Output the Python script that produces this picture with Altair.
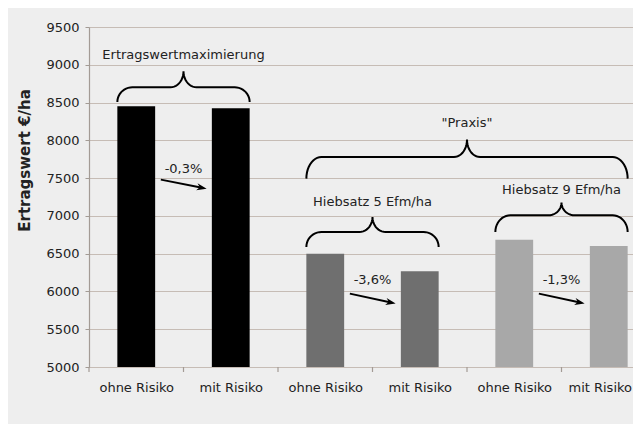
import json
import math
import altair as alt
import numpy as np
import pandas as pd

# ---------------- data ----------------
categories = ["ohne Risiko", "mit Risiko", "ohne Risiko", "mit Risiko", "ohne Risiko", "mit Risiko"]
values = [8450, 8425, 6500, 6266, 6685, 6600]
bar_colors = ["#000000", "#000000", "#6f6f6f", "#6f6f6f", "#a8a8a8", "#a8a8a8"]
y_ticks = [5000, 5500, 6000, 6500, 7000, 7500, 8000, 8500, 9000, 9500]

pct_labels = ["-0,3%", "-3,6%", "-1,3%"]
pct_pair_first = [0, 2, 4]
arrow_y_start = [7480, 5971, 5971]
arrow_y_end = [7360, 5839, 5839]
pct_label_y = [7617, 6147, 6147]

group_labels = ["Ertragswertmaximierung", '"Praxis"', "Hiebsatz 5 Efm/ha", "Hiebsatz 9 Efm/ha"]
group_first = [0, 2, 2, 4]
group_last = [1, 5, 3, 5]
brace_end_y = [8507, 7493, 6588, 6787]
brace_mid_y = [8702, 7779, 6787, 7008]
brace_tip_y = [8914, 8010, 6985, 7176]
group_label_y = [9126, 8229, 7184, 7348]

# ---------------- layout ----------------
W, H = 544, 340
BAND_PX = 94.5
XMAX = W / BAND_PX
YMIN, YMAX = y_ticks[0], y_ticks[-1]
kx = W / XMAX               # px per x unit
ky = H / (YMAX - YMIN)      # px per y unit
FONT = "DejaVu Sans"
TXT = "#222222"
GRID = "#c6bcb5"
AXC = "#a39b95"

xscale = alt.Scale(domain=[0, XMAX], nice=False, zero=False)
yscale = alt.Scale(domain=[YMIN, YMAX], nice=False, zero=False)

label_expr = json.dumps(categories) + "[floor(datum.value)]"

xaxis = alt.Axis(
    values=[i + 0.5 for i in range(len(categories))], labelExpr=label_expr,
    ticks=False, tickSize=0, grid=False, domain=True, domainColor=GRID, domainWidth=1.2,
    labelFont=FONT, labelFontSize=13, labelColor=TXT, labelPadding=14,
    labelOffset={"condition": {"test": "datum.value > 5", "value": -9}, "value": 0},
    labelBound=False, labelOverlap=False, title="")
yaxis = alt.Axis(
    values=y_ticks, format="d", grid=True, gridColor=GRID, gridWidth=1.2,
    domain=True, domainColor=AXC, domainWidth=1.2,
    ticks=True, tickColor=AXC, tickSize=4, labelPadding=6,
    labelFont=FONT, labelFontSize=13, labelColor=TXT,
    title="Ertragswert €/ha", titleFont=FONT, titleFontSize=15, titleFontWeight="bold",
    titleColor=TXT, titleAngle=270, titleX=-65, titleY=133,
    titleAlign="center", titleBaseline="middle")


def X(field):
    return alt.X(field, scale=xscale, axis=xaxis)


def Y(field):
    return alt.Y(field, scale=yscale, axis=yaxis)


# bars
bars_df = pd.DataFrame({
    "i": range(len(values)),
    "cat": categories,
    "value": values,
    "color": bar_colors,
})
bars_df["x0"] = bars_df["i"] + 0.3
bars_df["x1"] = bars_df["i"] + 0.7
bars_df["base"] = YMIN

bars = alt.Chart(bars_df).mark_bar().encode(
    x=X("x0:Q"), x2="x1:Q",
    y=Y("value:Q"), y2="base:Q",
    color=alt.Color("color:N", scale=None),
)

# category separator ticks below x axis
sep_df = pd.DataFrame({"b": list(range(len(categories)))})
seps = alt.Chart(sep_df).mark_rule(color=AXC, strokeWidth=1.2).encode(
    x=X("b:Q"),
    y=alt.value(H), y2=alt.value(H + 5),
)

# braces
rows = []
n_arc = 12
for b in range(len(group_labels)):
    x0 = group_first[b] + 0.3
    x1 = group_last[b] + 0.7
    xc = (x0 + x1) / 2
    ye, ym, yt = brace_end_y[b], brace_mid_y[b], brace_tip_y[b]
    rx = 15 / kx
    rx2 = 13 / kx
    pts = []
    t = np.linspace(0, math.pi / 2, n_arc)
    for tt in t:
        pts.append((x0 + rx - rx * math.cos(tt), ye + (ym - ye) * math.sin(tt)))
    for tt in t:
        pts.append((xc - rx2 + rx2 * math.sin(tt), yt - (yt - ym) * math.cos(tt)))
    right = [(2 * xc - px, py) for (px, py) in reversed(pts)]
    pts = pts + right
    for o, (px, py) in enumerate(pts):
        rows.append({"brace": b, "o": o, "x": px, "y": py})
brace_df = pd.DataFrame(rows)

braces = alt.Chart(brace_df).mark_line(color="#000000", strokeWidth=2).encode(
    x=X("x:Q"), y=Y("y:Q"),
    detail="brace:N",
    order="o:Q",
)

glabel_df = pd.DataFrame({
    "label": group_labels,
    "x": [(group_first[b] + 0.3 + group_last[b] + 0.7) / 2 for b in range(len(group_labels))],
    "y": group_label_y,
})
glabels = alt.Chart(glabel_df).mark_text(
    font=FONT, fontSize=13, color=TXT, align="center", baseline="middle"
).encode(
    x=X("x:Q"), y=Y("y:Q"),
    text="label:N",
)

# arrows
arr_df = pd.DataFrame({
    "label": pct_labels,
    "xs": [p + 0.76 for p in pct_pair_first],
    "xe": [p + 1.245 for p in pct_pair_first],
    "ys": arrow_y_start,
    "ye": arrow_y_end,
    "tx": [p + 1.0 for p in pct_pair_first],
    "ty": pct_label_y,
})
dxp = (arr_df["xe"] - arr_df["xs"]) * kx
dyp = (arr_df["ys"] - arr_df["ye"]) * ky
arr_df["ang"] = np.degrees(np.arctan2(dyp, dxp))
length = np.sqrt(dxp ** 2 + dyp ** 2)
shorten = 6.0 / length
arr_df["xl"] = arr_df["xe"] - (arr_df["xe"] - arr_df["xs"]) * shorten
arr_df["yl"] = arr_df["ye"] - (arr_df["ye"] - arr_df["ys"]) * shorten

arrow_lines = alt.Chart(arr_df).mark_rule(color="#000000", strokeWidth=2).encode(
    x=X("xs:Q"), x2="xl:Q",
    y=Y("ys:Q"), y2="yl:Q",
)
heads = alt.Chart(arr_df).mark_point(
    shape="M0,0 L-2,-0.7 L-1.4,0 L-2,0.7 Z", filled=True, size=100,
    color="#000000", opacity=1, strokeWidth=0
).encode(
    x=X("xe:Q"), y=Y("ye:Q"),
    angle=alt.Angle("ang:Q", scale=None),
)
pct_text = alt.Chart(arr_df).mark_text(
    font=FONT, fontSize=13, color=TXT, align="center", baseline="middle"
).encode(
    x=X("tx:Q"), y=Y("ty:Q"),
    text="label:N",
)

chart = alt.layer(
    bars, seps, braces, glabels, arrow_lines, heads, pct_text
).properties(
    width=W, height=H,
    autosize=alt.AutoSizeParams(type="none"),
    padding={"left": 81, "top": 19, "right": 0, "bottom": 57},
    background="#eeeeee",
).configure_view(stroke="transparent")

chart.save("out.html", embed_options={"renderer": "svg", "actions": False})
